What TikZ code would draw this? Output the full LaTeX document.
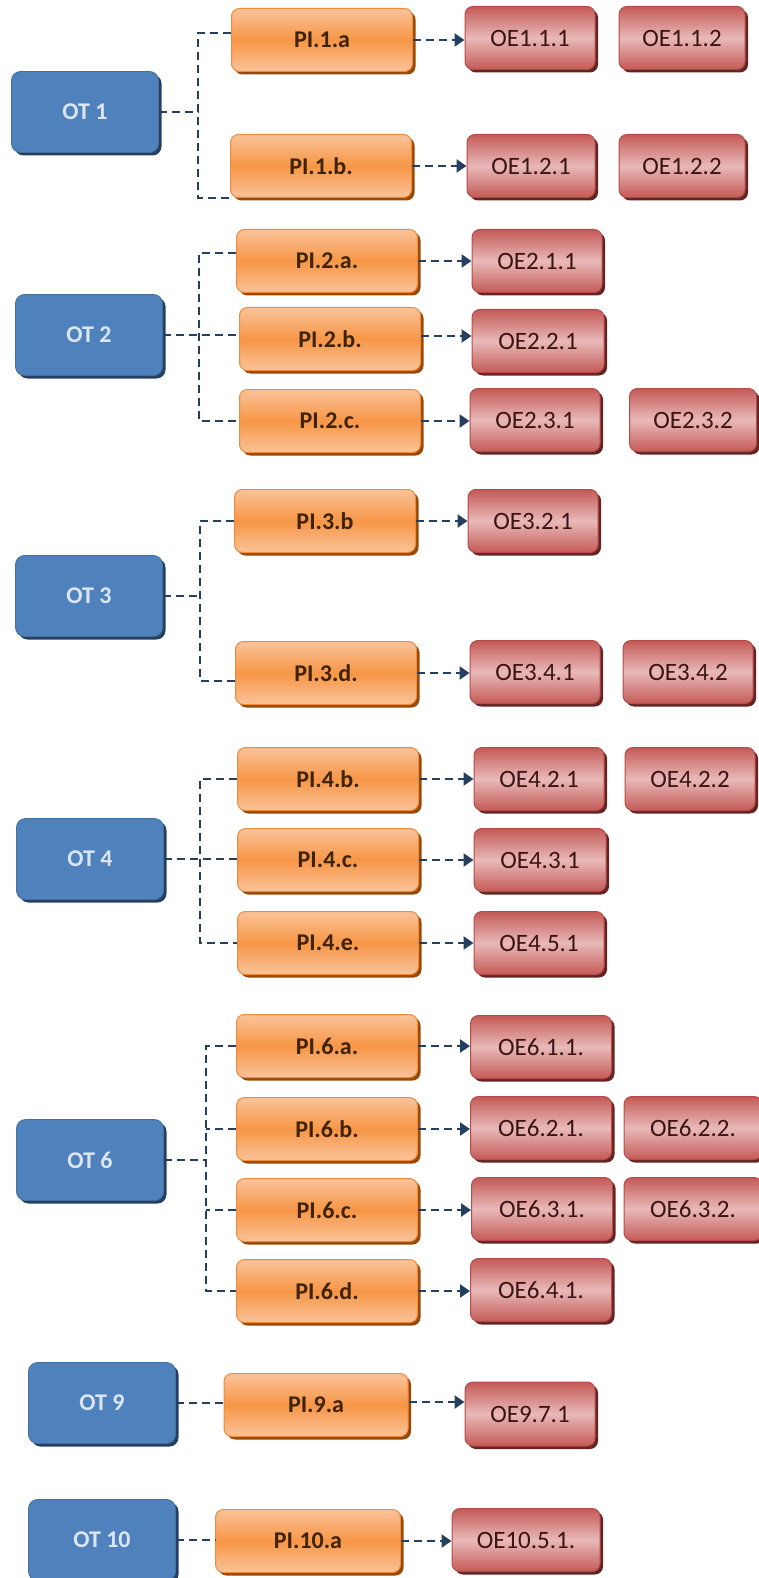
\documentclass[tikz,border=0pt]{standalone}
\usepackage{fontspec}
\setmainfont{Carlito}
\usetikzlibrary{arrows.meta,shadows}

\definecolor{otfill}{HTML}{4F81BD}
\definecolor{otline}{HTML}{41719C}
\definecolor{otshadow}{HTML}{253F62}
\definecolor{ottext}{HTML}{DCE6F2}
\definecolor{pilight}{HTML}{FAC39A}
\definecolor{pimid}{HTML}{F79646}
\definecolor{piline}{HTML}{EE8A3A}
\definecolor{pishadow}{HTML}{984807}
\definecolor{pitext}{HTML}{3F2305}
\definecolor{oedark}{HTML}{C45A57}
\definecolor{oelight}{HTML}{E8B9B8}
\definecolor{oeline}{HTML}{B94A47}
\definecolor{oeshadow}{HTML}{632523}
\definecolor{oetext}{HTML}{3C1414}
\definecolor{connblue}{HTML}{243F60}

\begin{document}
\begin{tikzpicture}[x=1pt, y=-1pt,
	otbox/.style={draw=otline, line width=0.8pt, fill=otfill, rounded corners=9pt,
		minimum width=147pt, minimum height=81pt, inner sep=0pt, text=ottext,
		font=\fontsize{24}{28}\selectfont\bfseries,
		drop shadow={shadow xshift=3pt, shadow yshift=-3pt, fill=otshadow, opacity=1}},
	pibox/.style={draw=piline, line width=1pt, top color=pilight, bottom color=pilight,
		middle color=pimid, rounded corners=8pt, minimum width=181pt, minimum height=63pt,
		inner sep=0pt, text=pitext, font=\fontsize{24}{28}\selectfont\bfseries,
		drop shadow={shadow xshift=3pt, shadow yshift=-3pt, fill=pishadow, opacity=1}},
	oebox/.style={draw=oeline, line width=1pt, top color=oedark, bottom color=oedark,
		middle color=oelight, rounded corners=8pt, minimum width=130pt, minimum height=63pt,
		inner sep=0pt, text=oetext, font=\fontsize{25}{29}\selectfont,
		drop shadow={shadow xshift=3pt, shadow yshift=-3pt, fill=oeshadow, opacity=1}},
	conn/.style={draw=connblue, line width=2.8pt, dash pattern=on 8pt off 5pt},
	arrowconn/.style={conn, -{Triangle[length=10pt, width=13pt]}}]

		\useasboundingbox (0, 0) rectangle (758, 1578);

		% objectives
		\node[otbox]	(ot1)	at (85, 112)	{OT 1};
		\node[otbox]	(ot2)	at (89, 335)	{OT 2};
		\node[otbox]	(ot3)	at (89, 596)	{OT 3};
		\node[otbox]	(ot4)	at (90, 859)	{OT 4};
		\node[otbox]	(ot6)	at (90, 1160)	{OT 6};
		\node[otbox]	(ot9)	at (102, 1403)	{OT 9};
		\node[otbox]	(ot10)	at (102, 1540)	{OT 10};

		% investment priorities
		\node[pibox]	(pi1a)	at (322, 40)	{PI.1.a};
		\node[pibox]	(pi1b)	at (321, 166)	{PI.1.b.};
		\node[pibox]	(pi2a)	at (327, 261)	{PI.2.a.};
		\node[pibox]	(pi2b)	at (330, 339)	{PI.2.b.};
		\node[pibox]	(pi2c)	at (330, 421)	{PI.2.c.};
		\node[pibox]	(pi3b)	at (325, 521)	{PI.3.b};
		\node[pibox]	(pi3d)	at (326, 673)	{PI.3.d.};
		\node[pibox]	(pi4b)	at (328, 779)	{PI.4.b.};
		\node[pibox]	(pi4c)	at (328, 860)	{PI.4.c.};
		\node[pibox]	(pi4e)	at (328, 943)	{PI.4.e.};
		\node[pibox]	(pi6a)	at (327, 1046)	{PI.6.a.};
		\node[pibox]	(pi6b)	at (327, 1129)	{PI.6.b.};
		\node[pibox]	(pi6c)	at (327, 1210)	{PI.6.c.};
		\node[pibox]	(pi6d)	at (327, 1291)	{PI.6.d.};
		\node[pibox, minimum width=184pt]	(pi9a)	at (316, 1405)	{PI.9.a};
		\node[pibox, minimum width=185pt]	(pi10a)	at (308, 1541)	{PI.10.a};

		% specific objectives
		\node[oebox]	(oe111)	at (530, 38)	{OE1.1.1};
		\node[oebox, minimum width=126pt]	(oe112)	at (682, 38)	{OE1.1.2};
		\node[oebox, minimum width=128pt]	(oe121)	at (531, 166)	{OE1.2.1};
		\node[oebox, minimum width=126pt]	(oe122)	at (682, 166)	{OE1.2.2};
		\node[oebox]	(oe211)	at (537, 261)	{OE2.1.1};
		\node[oebox, minimum width=132pt]	(oe221)	at (538, 341)	{OE2.2.1};
		\node[oebox]	(oe231)	at (535, 420)	{OE2.3.1};
		\node[oebox, minimum width=127pt]	(oe232)	at (693, 420)	{OE2.3.2};
		\node[oebox]	(oe321)	at (533, 521)	{OE3.2.1};
		\node[oebox]	(oe341)	at (535, 672)	{OE3.4.1};
		\node[oebox]	(oe342)	at (688, 672)	{OE3.4.2};
		\node[oebox]	(oe421)	at (539, 779)	{OE4.2.1};
		\node[oebox]	(oe422)	at (690, 779)	{OE4.2.2};
		\node[oebox, minimum width=132pt]	(oe431)	at (540, 860)	{OE4.3.1};
		\node[oebox]	(oe451)	at (539, 943)	{OE4.5.1};
		\node[oebox, minimum width=141pt]	(oe611)	at (541, 1047)	{OE6.1.1.};
		\node[oebox, minimum width=141pt]	(oe621)	at (541, 1128)	{OE6.2.1.};
		\node[oebox, minimum width=138pt]	(oe622)	at (693, 1128)	{OE6.2.2.};
		\node[oebox, minimum width=141pt]	(oe631)	at (542, 1209)	{OE6.3.1.};
		\node[oebox, minimum width=138pt]	(oe632)	at (693, 1209)	{OE6.3.2.};
		\node[oebox, minimum width=141pt]	(oe641)	at (541, 1290)	{OE6.4.1.};
		\node[oebox, minimum height=64pt]	(oe971)	at (530, 1414)	{OE9.7.1};
		\node[oebox, minimum width=148pt]	(oe1051)	at (526, 1540)	{OE10.5.1.};

		% junctions
		\coordinate (j1) at (198, 112);
		\coordinate (j2) at (199, 335);
		\coordinate (j3) at (200, 596);
		\coordinate (j4) at (200, 859);
		\coordinate (j6) at (206, 1160);

		% OT -> PI
		\draw[conn]	(ot1.east) -- (j1);
		\draw[conn]	([yshift=7pt]pi1a.west) -| (j1) |- (pi1b.south west);

		\draw[conn]	(ot2.east) -- (ot2.east -| pi2b.west);
		\draw[conn]	([yshift=8pt]pi2a.west) -| (j2) |- (pi2c.west);

		\draw[conn]	(ot3.east) -- (j3);
		\draw[conn]	(pi3b.west) -| (j3) |- ([yshift=-8pt]pi3d.west);

		\draw[conn]	(ot4.east) -- (ot4.east -| pi4c.west);
		\draw[conn]	(pi4b.west) -| (j4) |- (pi4e.west);

		\draw[conn]	(ot6.east) -- (j6);
		\draw[conn]	(pi6a.west) -| (j6) |- (pi6d.west);
		\draw[conn]	(pi6b.west) -- (pi6b.west -| j6);
		\draw[conn]	(pi6c.west) -- (pi6c.west -| j6);

		\draw[conn]	(ot9.east) -- (ot9.east -| pi9a.west);
		\draw[conn]	(ot10.east) -- (ot10.east -| pi10a.west);

		% PI -> OE
		\draw[arrowconn]	(pi1a.east) -- (pi1a.east -| oe111.west);
		\draw[arrowconn]	(pi1b.east) -- (pi1b.east -| oe121.west);
		\draw[arrowconn]	(pi2a.east) -- (pi2a.east -| oe211.west);
		\draw[arrowconn]	([yshift=3pt]pi2b.east) -- ([yshift=3pt]pi2b.east -| oe221.west);
		\draw[arrowconn]	(pi2c.east) -- (pi2c.east -| oe231.west);
		\draw[arrowconn]	(pi3b.east) -- (pi3b.east -| oe321.west);
		\draw[arrowconn]	(pi3d.east) -- (pi3d.east -| oe341.west);
		\draw[arrowconn]	(pi4b.east) -- (pi4b.east -| oe421.west);
		\draw[arrowconn]	(pi4c.east) -- (pi4c.east -| oe431.west);
		\draw[arrowconn]	(pi4e.east) -- (pi4e.east -| oe451.west);
		\draw[arrowconn]	(pi6a.east) -- (pi6a.east -| oe611.west);
		\draw[arrowconn]	(pi6b.east) -- (pi6b.east -| oe621.west);
		\draw[arrowconn]	(pi6c.east) -- (pi6c.east -| oe631.west);
		\draw[arrowconn]	(pi6d.east) -- (pi6d.east -| oe641.west);
		\draw[arrowconn]	([yshift=3pt]pi9a.east) -- ([yshift=3pt]pi9a.east -| oe971.west);
		\draw[arrowconn]	(pi10a.east) -- (pi10a.east -| oe1051.west);
	\end{tikzpicture}
\end{document}
